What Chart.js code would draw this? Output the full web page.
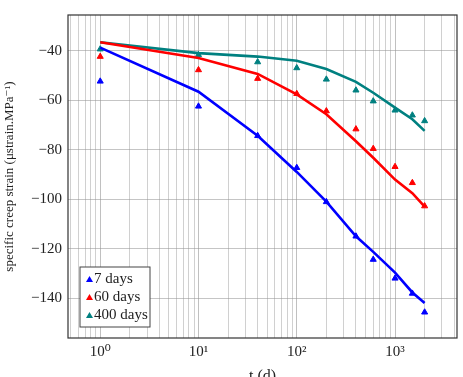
<!DOCTYPE html>
<html>
<head>
<meta charset="utf-8">
<script src="https://cdn.jsdelivr.net/npm/chart.js@4.4.1/dist/chart.umd.min.js"></script>
<style>
  html, body { margin: 0; padding: 0; background: #fff; }
  #wrap { width: 463px; height: 377px; }
</style>
</head>
<body>
<div id="wrap"><canvas id="creepChart"></canvas></div>
<script>
// ages at loading and measurement times (days)
const seriesNames = ["7 days", "60 days", "400 days"];
const tDays = [1, 10, 40, 100, 200, 400, 600, 1000, 1500, 2000];

// measured specific creep (triangles)
const meas7 = [-52.3, -62.4, -74.3, -87.2, -101.0, -114.9, -124.3, -131.9, -138.0, -145.6];
const meas60 = [-42.3, -47.7, -51.2, -57.3, -64.3, -71.6, -79.5, -86.8, -93.3, -102.7];
const meas400 = [-39.3, -41.6, -44.5, -46.9, -51.5, -55.9, -60.3, -64.0, -66.0, -68.3];

// model curves
const fit7 = [-38.7, -56.5, -74.3, -88.9, -100.9, -114.9, -121.2, -129.6, -137.6, -141.9];
const fit60 = [-36.5, -42.9, -49.3, -57.6, -65.6, -76.5, -83.2, -92.0, -97.5, -102.9];
const fit400 = [-36.5, -40.9, -42.3, -44.0, -47.3, -52.5, -56.9, -62.9, -67.6, -72.3];

const yTicks = [-140, -120, -100, -80, -60, -40];

const colors = ["rgb(0,0,255)", "rgb(255,0,0)", "rgb(0,128,128)"];
const font = "'Liberation Serif', 'DejaVu Serif', serif";

const toXY = (vals) => vals.map((v, i) => ({ x: tDays[i], y: v }));

const measured = [meas7, meas60, meas400];
const fits = [fit7, fit60, fit400];

const datasets = [];
fits.forEach((f, i) => {
  datasets.push({
    label: seriesNames[i] + " fit",
    data: toXY(f),
    showLine: true,
    borderColor: colors[i],
    borderWidth: 2.6,
    pointRadius: 0,
    fill: false,
  });
});
measured.forEach((m, i) => {
  datasets.push({
    label: seriesNames[i],
    data: toXY(m),
    showLine: false,
    pointStyle: "triangle",
    pointRadius: 3.5,
    backgroundColor: colors[i],
    borderColor: colors[i],
    borderWidth: 1,
  });
});

// log minor ticks
const xTickVals = [];
for (let e = -1; e <= 3; e++) {
  for (let m = 1; m <= 9; m++) {
    const v = m * Math.pow(10, e);
    if (v >= 0.47 && v <= 4270) xTickVals.push(v);
  }
}
const isMajor = (v) => Math.abs(Math.log10(v) - Math.round(Math.log10(v))) < 1e-9;
const supers = { "0": "\u2070", "1": "\u00b9", "2": "\u00b2", "3": "\u00b3" };

const boxPlugin = {
  id: "boxPlugin",
  afterDraw(chart) {
    const { ctx, chartArea: a } = chart;
    ctx.save();
    ctx.strokeStyle = "#333";
    ctx.lineWidth = 1.2;
    ctx.strokeRect(a.left, a.top, a.right - a.left, a.bottom - a.top);

    // legend box in lower-left corner
    const bx = a.left + 12, by = a.bottom - 71, bw = 70, bh = 60;
    ctx.fillStyle = "#fff";
    ctx.fillRect(bx, by, bw, bh);
    ctx.strokeStyle = "#444";
    ctx.lineWidth = 1;
    ctx.strokeRect(bx, by, bw, bh);
    ctx.font = "15px " + font;
    ctx.textBaseline = "middle";
    seriesNames.forEach((name, i) => {
      const cy = by + 12 + i * 18;
      ctx.fillStyle = colors[i];
      ctx.beginPath();
      ctx.moveTo(bx + 6, cy + 3);
      ctx.lineTo(bx + 9.5, cy - 3);
      ctx.lineTo(bx + 13, cy + 3);
      ctx.closePath();
      ctx.fill();
      ctx.fillStyle = "#222";
      ctx.fillText(name, bx + 14, cy);
    });
    ctx.restore();
  },
};

new Chart(document.getElementById("creepChart"), {
  type: "scatter",
  data: { datasets },
  plugins: [boxPlugin],
  options: {
    responsive: true,
    maintainAspectRatio: false,
    animation: false,
    layout: { padding: { left: 0, right: 6, top: 10, bottom: 0 } },
    plugins: {
      legend: { display: false },
      tooltip: { enabled: false },
    },
    scales: {
      x: {
        type: "logarithmic",
        min: 0.47,
        max: 4270,
        afterBuildTicks: (scale) => {
          scale.ticks = xTickVals.map((v) => ({ value: v }));
        },
        afterFit: (scale) => {
          scale.height = 39;
        },
        ticks: {
          autoSkip: false,
          maxRotation: 0,
          padding: 5,
          color: "#222",
          font: { family: font, size: 15 },
          callback: (v) => (isMajor(v) ? "10" + supers[String(Math.round(Math.log10(v)))] : ""),
        },
        grid: {
          drawTicks: false,
          color: (c) => (isMajor(c.tick.value) ? "rgba(150,150,150,0.6)" : "rgba(150,150,150,0.45)"),
          lineWidth: 1,
        },
        border: { display: false },
        title: {
          display: true,
          text: "t (d)",
          color: "#222",
          font: { family: font, size: 16 },
          padding: { top: 0, bottom: -9 },
        },
      },
      y: {
        min: -156,
        max: -25.5,
        afterBuildTicks: (scale) => {
          scale.ticks = yTicks.map((v) => ({ value: v }));
        },
        afterFit: (scale) => {
          scale.width = 68;
        },
        ticks: {
          padding: 6,
          color: "#222",
          font: { family: font, size: 15 },
          callback: (v) => String(v).replace("-", "\u2212"),
        },
        grid: {
          drawTicks: false,
          color: "rgba(150,150,150,0.55)",
          lineWidth: 1,
        },
        border: { display: false },
        title: {
          display: true,
          text: "specific creep strain (\u03bcstrain.MPa\u207b\u00b9)",
          color: "#222",
          font: { family: font, size: 13 },
          padding: { top: 2, bottom: 2 },
        },
      },
    },
  },
});
</script>
</body>
</html>
